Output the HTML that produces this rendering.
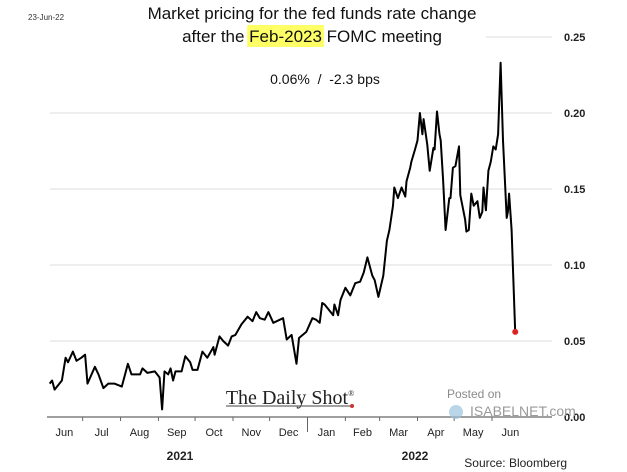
<!DOCTYPE html>
<html><head><meta charset="utf-8"><style>
body{margin:0;background:#fff;}
svg{display:block;font-family:"Liberation Sans",sans-serif;}
</style></head><body>
<svg id="chart" width="627" height="472" viewBox="0 0 627 472" xmlns="http://www.w3.org/2000/svg">
<text x="28" y="20" font-size="8" fill="#333">23-Jun-22</text>
<rect id="hl" x="263" y="25" width="70" height="22" fill="#ffff66"/>
<text x="312" y="19" font-size="17" text-anchor="middle" fill="#111">Market pricing for the fed funds rate change</text>
<text id="t2" x="312" y="42" font-size="17" text-anchor="middle" fill="#111">after the Feb-2023 FOMC meeting</text>
<text x="325" y="84" font-size="14" text-anchor="middle" fill="#111">0.06%&#160;&#160;/&#160;&#160;-2.3 bps</text>
<g id="grid"></g><g id="xaxis"></g><g id="yaxis"></g>
<text x="290" y="404" font-size="20" text-anchor="middle" font-family="Liberation Serif,serif" fill="#222">The Daily Shot<tspan font-size="8" dy="-8">®</tspan></text>
<line x1="226" y1="406" x2="352" y2="406" stroke="#444" stroke-width="1"/>
<circle cx="352" cy="406" r="2" fill="#c33"/>
<text x="447" y="398" font-size="12" fill="#8a8a8a">Posted on</text>
<circle cx="456" cy="412" r="7" fill="#9cc3dd" opacity="0.7"/>
<text x="470" y="416" font-size="14" fill="#9a9a9a">ISABELNET.com</text>
<text x="180" y="460" font-size="12" font-weight="bold" text-anchor="middle" fill="#222">2021</text>
<text x="415" y="460" font-size="12" font-weight="bold" text-anchor="middle" fill="#222">2022</text>
<text x="567" y="467" font-size="12" text-anchor="end" fill="#222">Source: Bloomberg</text>
<g id="series"></g>
</svg>
<script>
const days=[3,5,7,13,16,18,22,25,29,32,34,40,43,47,51,56,62,67,70,77,79,83,89,93,95,97,100,102,104,106,111,114,118,120,124,128,132,137,138,142,145,149,152,155,160,165,169,172,175,179,182,186,194,197,201,205,207,213,218,221,224,226,228,232,235,236,239,241,245,249,253,257,260,263,267,269,272,276,279,281,284,285,288,291,294,295,298,299,302,304,306,308,309,312,314,317,318,320,322,323,325,327,330,331,333,335,338,339,343,344,346,348,350,353,355,357,358,360,362,364,366,368,370,372,374,377,378,379,381,384];
const values=[0.022,0.024,0.018,0.024,0.039,0.036,0.043,0.037,0.039,0.041,0.022,0.033,0.028,0.019,0.022,0.022,0.020,0.035,0.028,0.028,0.032,0.029,0.030,0.026,0.005,0.030,0.028,0.032,0.024,0.030,0.030,0.040,0.036,0.031,0.031,0.043,0.039,0.046,0.041,0.053,0.050,0.047,0.053,0.054,0.061,0.066,0.063,0.069,0.065,0.064,0.069,0.062,0.065,0.051,0.054,0.035,0.052,0.056,0.065,0.064,0.062,0.075,0.074,0.070,0.067,0.074,0.067,0.077,0.085,0.080,0.088,0.089,0.095,0.105,0.093,0.090,0.079,0.093,0.116,0.123,0.139,0.151,0.144,0.151,0.145,0.155,0.164,0.168,0.176,0.182,0.200,0.186,0.196,0.179,0.162,0.177,0.176,0.201,0.186,0.182,0.156,0.123,0.144,0.144,0.164,0.165,0.178,0.146,0.130,0.122,0.123,0.147,0.139,0.142,0.131,0.135,0.151,0.136,0.162,0.168,0.178,0.176,0.186,0.233,0.182,0.131,0.135,0.147,0.123,0.056];
const yTicks=[0,0.05,0.10,0.15,0.20,0.25];
const monthLabels=["Jun","Jul","Aug","Sep","Oct","Nov","Dec","Jan","Feb","Mar","Apr","May","Jun"];
const monthStarts=[0,30,61,92,122,153,183,214,245,273,304,334,365,395];
const NS="http://www.w3.org/2000/svg";
const X=d=>46+d*1.222;
const Y=v=>417-v*1520;
function mk(t,a,p){const e=document.createElementNS(NS,t);for(const k in a)e.setAttribute(k,a[k]);p.appendChild(e);return e;}
// position highlight behind "Feb-2023"
(function(){const t=document.getElementById('t2');try{const s=t.getStartPositionOfChar(10).x;const w=t.getSubStringLength(10,8);const r=document.getElementById('hl');r.setAttribute('x',s-2);r.setAttribute('width',w+4);}catch(e){}})();
const grid=document.getElementById('grid'),xa=document.getElementById('xaxis'),ya=document.getElementById('yaxis'),ser=document.getElementById('series');
yTicks.forEach(v=>{
  if(v>0){const g=mk('line',{x1:v>=0.25?486:50,x2:552,y1:Y(v),y2:Y(v),stroke:'#dcdcdc','stroke-width':1},grid);
  
  }
  const t=mk('text',{x:564,y:Y(v)+4,'font-size':11,'font-weight':'bold',fill:'#222'},ya);
  t.textContent=v.toFixed(2);
  
  
});
const ax=mk('line',{x1:47,x2:552,y1:417,y2:417,stroke:'#666','stroke-width':1.2},xa);


monthStarts.forEach((d,i)=>{
  if(i>0&&i<monthStarts.length-1){mk('line',{x1:X(d),x2:X(d),y1:417,y2:d===214?432:421,stroke:'#666'},xa);}
  if(i<monthLabels.length){const t=mk('text',{x:(X(d)+X(monthStarts[i+1]))/2,y:436,'font-size':11,'text-anchor':'middle',fill:'#222'},xa);
  t.textContent=monthLabels[i];
  
  }
});
const pts=days.map((d,i)=>X(d).toFixed(1)+','+Y(values[i]).toFixed(1)).join(' ');
const pl=mk('polyline',{points:pts,fill:'none',stroke:'#000','stroke-width':2,'stroke-linejoin':'round'},ser);


const last=days.length-1;
const dot=mk('circle',{cx:X(days[last]),cy:Y(values[last]),r:3,fill:'#d22'},ser);


</script>
</body></html>
